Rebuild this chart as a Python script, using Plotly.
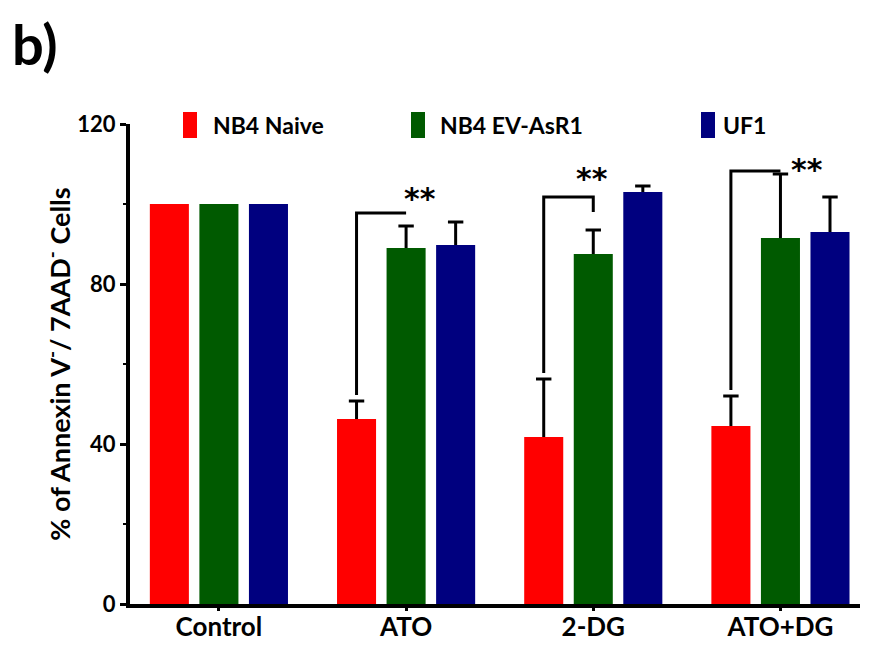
import plotly.graph_objects as go

categories = ["Control", "ATO", "2-DG", "ATO+DG"]
series_names = ["NB4 Naive", "NB4 EV-AsR1", "UF1"]
naive_vals = [100, 46.25, 41.75, 44.5]
naive_err = [None, 4.5, 14.5, 7.5]
evasr1_vals = [100, 89, 87.5, 91.5]
evasr1_err = [None, 5.5, 6.0, 16.0]
uf1_vals = [100, 89.75, 103, 93]
uf1_err = [None, 5.75, 1.5, 8.75]
y_ticks = [0, 40, 80, 120]

# significance brackets (group index, bracket height, right-end height)
bracket_groups = [1, 2, 3]
bracket_tops = [97.75, 101.75, 108.25]
bracket_right_ends = [97.75, 98.0, 108.25]

colors = ["#FF0000", "#005A00", "#00007F"]
FONT = "Lato"

values = [naive_vals, evasr1_vals, uf1_vals]
errors = [naive_err, evasr1_err, uf1_err]

group_pos = list(range(len(categories)))
slot = 0.2647                 # distance between bar centres within a group (category units)
bar_w = slot * (1 - 0.212)

fig = go.Figure()
for k, (name, v, e, c) in enumerate(zip(series_names, values, errors, colors)):
    xs = [g + (k - 1) * slot for g in group_pos]
    fig.add_trace(go.Bar(
        x=xs, y=v, name=name, width=bar_w,
        marker=dict(color=c, line=dict(width=0)),
        error_y=dict(type="data", array=[0 if ee is None else ee for ee in e],
                     arrayminus=[0] * len(e), symmetric=False,
                     color="black", thickness=3, width=0),
        showlegend=False,
    ))
    # caps on the upper end of the error bars
    fig.add_trace(go.Scatter(
        x=xs, y=[None if ee is None else vv + ee for vv, ee in zip(v, e)],
        mode="markers", showlegend=False, hoverinfo="skip",
        marker=dict(symbol="line-ew", size=11, line=dict(color="black", width=3)),
    ))

shapes = []
annotations = []
star_dx = [0.075, -0.005, 0.14]
star_y = [101.5, 106.5, 108.6]
for i, g in enumerate(bracket_groups):
    xl = g - slot
    xr = g
    ybot = naive_vals[g] + naive_err[g] + 1.5
    path = f"M {xl},{ybot} L {xl},{bracket_tops[i]} L {xr},{bracket_tops[i]} L {xr},{bracket_right_ends[i]}"
    shapes.append(dict(type="path", xref="x", yref="y", path=path,
                       line=dict(color="black", width=3)))
    annotations.append(dict(x=g + star_dx[i], y=star_y[i], xref="x", yref="y",
                            text="**", showarrow=False, yanchor="middle",
                            font=dict(family="DejaVu Sans", size=30, color="black", weight="bold")))

# custom legend (positions in target pixels, converted to plot-area paper coords)
legend_rect_x = [183, 411, 701]
legend_text_x = [211, 438, 721]
for name, c, lx, tx in zip(series_names, colors, legend_rect_x, legend_text_x):
    shapes.append(dict(type="rect", xref="paper", yref="paper",
                       x0=(lx - 130) / 730, x1=(lx + 14 - 130) / 730,
                       y0=(604 - 138) / 480, y1=(604 - 112) / 480,
                       fillcolor=c, line=dict(width=0)))
    annotations.append(dict(x=(tx - 130) / 730, y=(604 - 125) / 480,
                            xref="paper", yref="paper", text=name, showarrow=False,
                            xanchor="left", yanchor="middle",
                            font=dict(family=FONT, size=23, color="black", weight="bold")))

annotations.append(dict(x=(10 - 130) / 730, y=(604 - 8) / 480, xref="paper", yref="paper",
                        text="b)", showarrow=False, xanchor="left", yanchor="top",
                        font=dict(family=FONT, size=56, color="black", weight="bold")))

# the page places the figure 8px in from the top-left corner; margins compensate
fig.update_layout(
    width=871, height=645,
    margin=dict(l=122, r=19, t=116, b=49),
    plot_bgcolor="white", paper_bgcolor="white",
    shapes=shapes, annotations=annotations,
    font=dict(family=FONT, color="black"),
)
fig.update_xaxes(
    range=[-0.475, 3.425], tickvals=group_pos, ticktext=categories,
    showline=True, linecolor="black", linewidth=4, automargin=False,
    ticks="outside", ticklen=3, tickwidth=3, tickcolor="black",
    tickfont=dict(family=FONT, size=26, color="black", weight="bold"),
    showgrid=False, zeroline=False,
)
try:
    fig.update_xaxes(ticklabelstandoff=-6)
except Exception:
    pass
fig.update_yaxes(
    range=[0, 120], tickvals=y_ticks, showline=True, linecolor="black", linewidth=4,
    automargin=False,
    ticks="outside", ticklen=6, tickwidth=3, tickcolor="black",
    minor=dict(dtick=20, ticks="outside", ticklen=3, tickwidth=2, tickcolor="black"),
    tickfont=dict(family=FONT, size=22, color="black", weight="bold"),
    title=dict(text="% of Annexin V<sup>-</sup>/ 7AAD<sup>-</sup> Cells",
               font=dict(family=FONT, size=27, color="black", weight="bold"), standoff=0),
    showgrid=False, zeroline=False,
)

fig.write_html("out.html")
